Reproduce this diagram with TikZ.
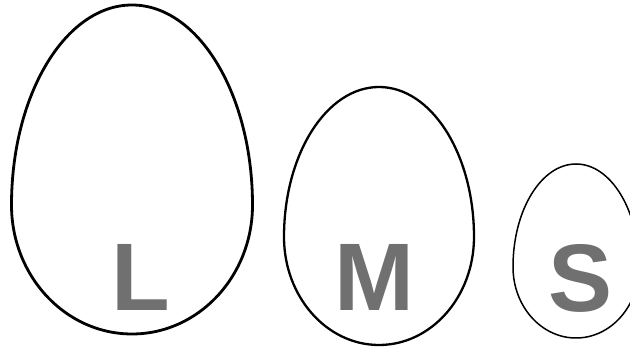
\documentclass[tikz,border=0pt]{standalone}
\usepackage{fontspec}
\setmainfont{Liberation Sans}
\usepackage{xcolor}
\definecolor{lettergray}{RGB}{112,112,112}
\usetikzlibrary{positioning}

\tikzset{
  egg/.style={draw=black, fill=white},
  size letter/.style={anchor=base, inner sep=0pt, text=lettergray,
    font=\fontsize{96}{96}\selectfont\bfseries},
}

\begin{document}
\begin{tikzpicture}[x=1pt,y=1pt]
\useasboundingbox (0,0) rectangle (630,348);
\clip (0,0) rectangle (630,348);

% widest points of the eggs
\coordinate (largeW) at (11.5,143);
\coordinate (mediumW) at (284,111);
\coordinate (smallW) at (513,81);

% large egg
\draw[egg, line width=2.8pt] (largeW)
    arc[start angle=180, end angle=0, x radius=120.5, y radius=200]
    arc[start angle=0, end angle=-180, x radius=120.5, y radius=129] -- cycle;
% medium egg
\draw[egg, line width=2.3pt] (mediumW)
    arc[start angle=180, end angle=0, x radius=95, y radius=150]
    arc[start angle=0, end angle=-180, x radius=95, y radius=108] -- cycle;
% small egg
\draw[egg, line width=1.5pt] (smallW)
    arc[start angle=180, end angle=0, x radius=63, y radius=103]
    arc[start angle=0, end angle=-180, x radius=63, y radius=71] -- cycle;

\node[size letter] (large) at (141,37) {L};
\node[size letter] (medium) at (374,37) {M};
\node[size letter] (small) at (581,36.5) {S};
\end{tikzpicture}
\end{document}
